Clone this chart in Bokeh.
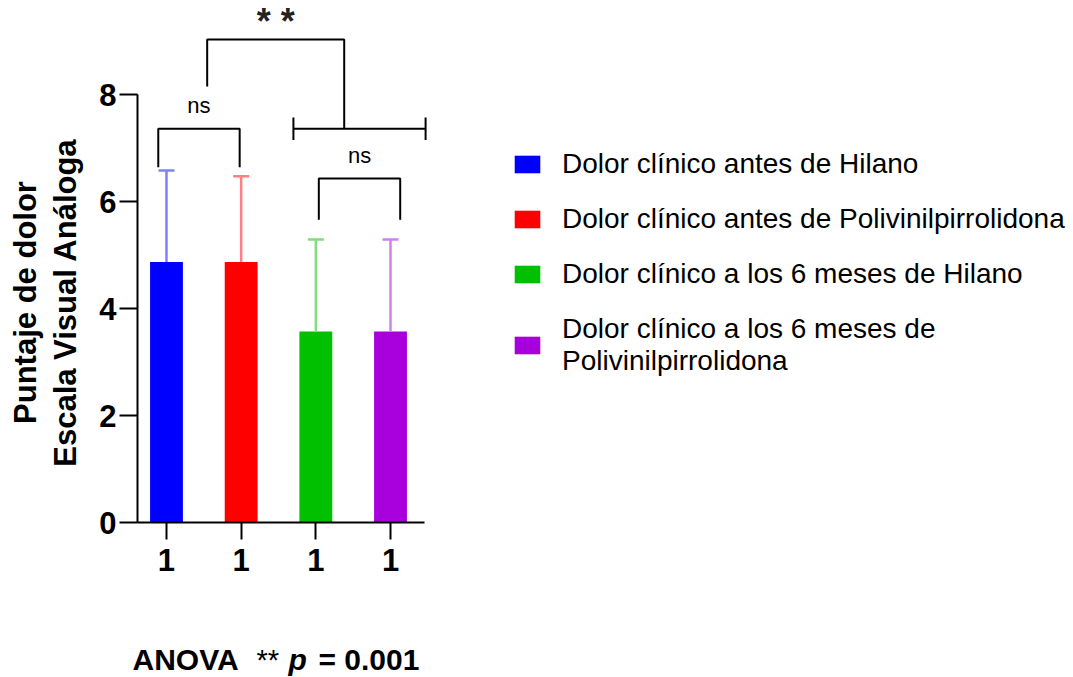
import math
from bokeh.plotting import figure
from bokeh.models import (Range1d, FixedTicker, Legend, LegendItem, Label)
from bokeh.embed import file_html
from bokeh.resources import INLINE
from bokeh.core.properties import value

# ---------------- data ----------------
group_names = [
    "Dolor clínico antes de Hilano",
    "Dolor clínico antes de Polivinilpirrolidona",
    "Dolor clínico a los 6 meses de Hilano",
    "Dolor clínico a los 6 meses de\nPolivinilpirrolidona",
]
bar_x = [1, 2, 3, 4]
tick_labels = ["1", "1", "1", "1"]
means = [4.87, 4.87, 3.57, 3.57]
sd = [1.71, 1.60, 1.72, 1.72]
bar_colors = ["#0000FF", "#FF0000", "#00C000", "#A800DC"]
err_colors = ["#8080FF", "#FF8080", "#80DD80", "#D080EE"]
y_ticks = [0, 2, 4, 6, 8]
pair_labels = ["ns", "ns"]
group_label = "* *"
y_title = ["Puntaje de dolor", "Escala Visual Análoga"]
anova_parts = ["ANOVA", "**", "p", "= 0.001"]

FONT = "Liberation Sans"
upper = [m + s for m, s in zip(means, sd)]

W, H = 1073, 677
p = figure(width=W, height=H, title=None,
           x_range=Range1d(-1.223, 13.147), y_range=Range1d(-2.897, 9.757),
           output_backend="svg", toolbar_location=None,
           min_border_left=0, min_border_right=0,
           min_border_top=0, min_border_bottom=0)
p.outline_line_color = None
p.xgrid.visible = False
p.ygrid.visible = False

# bars
bars = p.vbar(x=bar_x, top=means, bottom=0, width=0.44,
              fill_color=bar_colors, line_color=None)

# error bars (upper only)
cap = 0.107
p.segment(x0=bar_x, y0=means, x1=bar_x, y1=upper, line_color=err_colors, line_width=2.5)
p.segment(x0=[x - cap for x in bar_x], y0=upper, x1=[x + cap for x in bar_x], y1=upper,
          line_color=err_colors, line_width=2.5)

# comparison brackets
top12 = max(upper[0], upper[1])
top34 = max(upper[2], upper[3])
a0, a1 = bar_x[0] - 0.11, bar_x[1] - 0.02
ay_leg, ay_top = top12 + 0.06, top12 + 0.78
b0, b1 = bar_x[2] + 0.04, bar_x[3] + 0.13
by_leg, by_top = top34 + 0.37, top34 + 1.14
g0, g1 = bar_x[2] - 0.30, bar_x[3] + 0.47
gy = ay_top
gmid = bar_x[2] + 0.38
gtop = gy + 1.67
gleft = (a0 + a1) / 2 + 0.11
gleft_leg = gtop - 0.88

xs = [[a0, a0, a1, a1], [b0, b0, b1, b1], [g0, g1], [g0, g0], [g1, g1],
      [gleft, gleft, gmid, gmid]]
ys = [[ay_leg, ay_top, ay_top, ay_leg], [by_leg, by_top, by_top, by_leg], [gy, gy],
      [gy - 0.21, gy + 0.21], [gy - 0.21, gy + 0.21],
      [gleft_leg, gtop, gtop, gy]]
p.multi_line(xs=xs, ys=ys, line_color="black", line_width=2)

p.text(x=[(a0 + a1) / 2, (b0 + b1) / 2], y=[ay_top + 0.43, by_top + 0.43], text=pair_labels,
       text_align="center", text_baseline="alphabetic", text_font=value(FONT),
       text_font_size="22px", text_color="black")
p.text(x=[(gleft + gmid) / 2], y=[gtop + 0.33], text=[group_label],
       text_align="center", text_baseline="alphabetic", text_font=value(FONT),
       text_font_style="bold", text_font_size="36px", text_color="#222222")

# axes drawn at fixed positions inside the frame
x_axis_start = 0.6116
for ax in (p.xaxis[0], p.yaxis[0]):
    ax.axis_line_width = 2
    ax.major_tick_line_width = 2
    ax.major_tick_in = 0
    ax.minor_tick_line_color = None
    ax.major_label_text_font = FONT
    ax.major_label_text_font_style = "bold"
    ax.major_label_text_font_size = "31px"
    ax.major_label_text_color = "black"
    ax.axis_line_color = "black"
    ax.major_tick_line_color = "black"

p.yaxis.fixed_location = x_axis_start
p.yaxis.ticker = FixedTicker(ticks=y_ticks)
p.yaxis.bounds = (y_ticks[0], y_ticks[-1])
p.yaxis.major_tick_out = 18
p.yaxis.major_label_standoff = 3

p.xaxis.fixed_location = 0
p.xaxis.ticker = FixedTicker(ticks=bar_x)
p.xaxis.major_label_overrides = {x: t for x, t in zip(bar_x, tick_labels)}
p.xaxis.bounds = (x_axis_start, bar_x[-1] + 0.455)
p.xaxis.major_tick_out = 17
p.xaxis.major_label_standoff = 9

# y axis title (two lines), screen units from frame bottom-left
for txt, sx in zip(y_title, [25, 65]):
    p.add_layout(Label(x=sx, y=375, x_units="screen", y_units="screen", text=txt,
                       angle=math.pi / 2, text_align="center", text_baseline="middle",
                       text_font=FONT, text_font_style="bold", text_font_size="31px",
                       text_color="black"))

# ANOVA footnote
styles = ["bold", "normal", "bold italic", "bold"]
xpos = [132, 256, 288, 318]
sizes = ["30px", "29px", "30px", "30px"]
for txt, st, sx, fs in zip(anova_parts, styles, xpos, sizes):
    p.add_layout(Label(x=sx, y=18, x_units="screen", y_units="screen", text=txt,
                       text_baseline="alphabetic", text_font=FONT, text_font_style=st,
                       text_font_size=fs, text_color="black"))

# legend
items = [LegendItem(label=n, renderers=[bars], index=i) for i, n in enumerate(group_names)]
legend = Legend(items=items, location=(511, 300), margin=0, padding=10,
                glyph_width=32, glyph_height=22, label_standoff=19, spacing=23,
                label_text_font=FONT, label_text_font_size="28px",
                label_text_color="black", border_line_color=None,
                background_fill_alpha=0)
p.add_layout(legend)

open("out.html", "w").write(file_html(p, INLINE))
